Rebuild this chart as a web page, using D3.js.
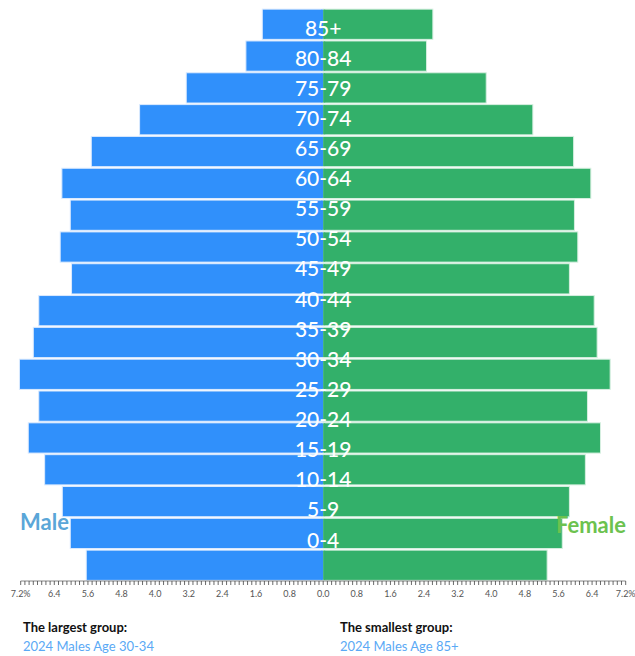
<!DOCTYPE html>
<html>
<head>
<meta charset="utf-8">
<script src="https://cdn.jsdelivr.net/npm/d3@7"></script>
<style>
  html, body { margin: 0; padding: 0; background: #fff; }
  svg { display: block; }
</style>
</head>
<body>
<svg id="chart" width="635" height="656"></svg>
<script>
// Age groups from oldest (top) to youngest (bottom)
const ageGroups = ["85+", "80-84", "75-79", "70-74", "65-69", "60-64", "55-59", "50-54",
  "45-49", "40-44", "35-39", "30-34", "25-29", "20-24", "15-19", "10-14", "5-9", "0-4"];

// Share of total population, percent
const maleValues = [1.45, 1.84, 3.26, 4.37, 5.52, 6.22, 6.02, 6.26, 5.99, 6.77, 6.90, 7.23,
  6.77, 7.02, 6.63, 6.21, 6.02, 5.64];
const femaleValues = [2.61, 2.46, 3.88, 4.99, 5.96, 6.37, 5.98, 6.06, 5.86, 6.45, 6.52, 6.83,
  6.29, 6.60, 6.24, 5.86, 5.69, 5.33];

const tickLabels = ["7.2%", "6.4", "5.6", "4.8", "4.0", "3.2", "2.4", "1.6", "0.8", "0.0",
  "0.8", "1.6", "2.4", "3.2", "4.0", "4.8", "5.6", "6.4", "7.2%"];
const tickValues = [-7.2, -6.4, -5.6, -4.8, -4.0, -3.2, -2.4, -1.6, -0.8, 0,
  0.8, 1.6, 2.4, 3.2, 4.0, 4.8, 5.6, 6.4, 7.2];

const summary = [
  { title: "The largest group:", detail: "2024 Males Age 30-34" },
  { title: "The smallest group:", detail: "2024 Males Age 85+" }
];

const svg = d3.select("#chart");
const font = "Lato, 'Noto Sans', sans-serif";
const maleColor = "#3090fb";
const femaleColor = "#33b06a";

const x = d3.scaleLinear().domain([-7.2, 7.2]).range([20.7, 625.7]);
const y = d3.scaleBand().domain(ageGroups).range([8.5, 581]).paddingInner(0.05).paddingOuter(0.02);
// Age labels sit on their own evenly spaced track
const yLabel = d3.scalePoint().domain(ageGroups).range([27, 539]);

const rows = ageGroups.map((g, i) => ({ group: g, male: maleValues[i], female: femaleValues[i] }));

const bars = svg.append("g");
bars.selectAll("rect.male").data(rows).join("rect")
  .attr("class", "male")
  .attr("x", d => x(-d.male))
  .attr("y", d => y(d.group))
  .attr("width", d => x(0) - x(-d.male))
  .attr("height", y.bandwidth())
  .attr("fill", maleColor)
  .attr("stroke", "#dbeafe")
  .attr("stroke-width", 1);

bars.selectAll("rect.female").data(rows).join("rect")
  .attr("class", "female")
  .attr("x", x(0))
  .attr("y", d => y(d.group))
  .attr("width", d => x(d.female) - x(0))
  .attr("height", y.bandwidth())
  .attr("fill", femaleColor)
  .attr("stroke", "#d6efe0")
  .attr("stroke-width", 1);

// Cover the outline where the two halves meet so the seam stays solid
bars.selectAll("rect.seamL").data(rows).join("rect")
  .attr("x", x(0) - 2)
  .attr("y", d => y(d.group) + 0.6)
  .attr("width", 2)
  .attr("height", y.bandwidth() - 1.2)
  .attr("fill", maleColor);
bars.selectAll("rect.seamR").data(rows).join("rect")
  .attr("x", x(0))
  .attr("y", d => y(d.group) + 0.6)
  .attr("width", 2)
  .attr("height", y.bandwidth() - 1.2)
  .attr("fill", femaleColor);

// Age group labels in the middle
svg.append("g").selectAll("text").data(ageGroups).join("text")
  .attr("x", x(0))
  .attr("y", d => yLabel(d))
  .attr("text-anchor", "middle")
  .attr("dominant-baseline", "central")
  .attr("fill", "#fff")
  .attr("font-family", font)
  .attr("font-size", 21)
  .attr("font-weight", 500)
  .text(d => d);

// Bottom axis with fine minor ticks
const axisY = 581;
const minor = d3.range(-72, 73).map(v => v / 10);
const axis = svg.append("g").attr("transform", `translate(0,${axisY})`);
axis.append("line")
  .attr("x1", x(-7.2)).attr("x2", x(7.2))
  .attr("y1", 0).attr("y2", 0)
  .attr("stroke", "#888").attr("stroke-width", 1);
axis.selectAll("line.tick").data(minor).join("line")
  .attr("class", "tick")
  .attr("x1", d => x(d)).attr("x2", d => x(d))
  .attr("y1", 0).attr("y2", 4)
  .attr("stroke", "#444").attr("stroke-width", 0.8);
axis.selectAll("text").data(tickValues).join("text")
  .attr("x", d => x(d))
  .attr("y", 16)
  .attr("text-anchor", "middle")
  .attr("fill", "#555")
  .attr("font-family", font)
  .attr("font-size", 9)
  .text((d, i) => tickLabels[i]);

// Series names
svg.append("text")
  .attr("x", 20).attr("y", 530)
  .attr("fill", "#5aa6d8")
  .attr("font-family", font)
  .attr("font-size", 22)
  .attr("font-weight", 700)
  .text("Male");
svg.append("text")
  .attr("x", 626).attr("y", 533)
  .attr("text-anchor", "end")
  .attr("fill", "#6cc24f")
  .attr("font-family", font)
  .attr("font-size", 22)
  .attr("font-weight", 700)
  .text("Female");

// Summary notes
const notes = svg.append("g").selectAll("g").data(summary).join("g")
  .attr("transform", (d, i) => `translate(${i === 0 ? 23 : 340},0)`);
notes.append("text")
  .attr("y", 632)
  .attr("fill", "#111")
  .attr("font-family", font)
  .attr("font-size", 13)
  .attr("font-weight", 700)
  .text(d => d.title);
notes.append("text")
  .attr("y", 651)
  .attr("fill", "#5aa9f5")
  .attr("font-family", font)
  .attr("font-size", 13)
  .text(d => d.detail);
</script>
</body>
</html>
